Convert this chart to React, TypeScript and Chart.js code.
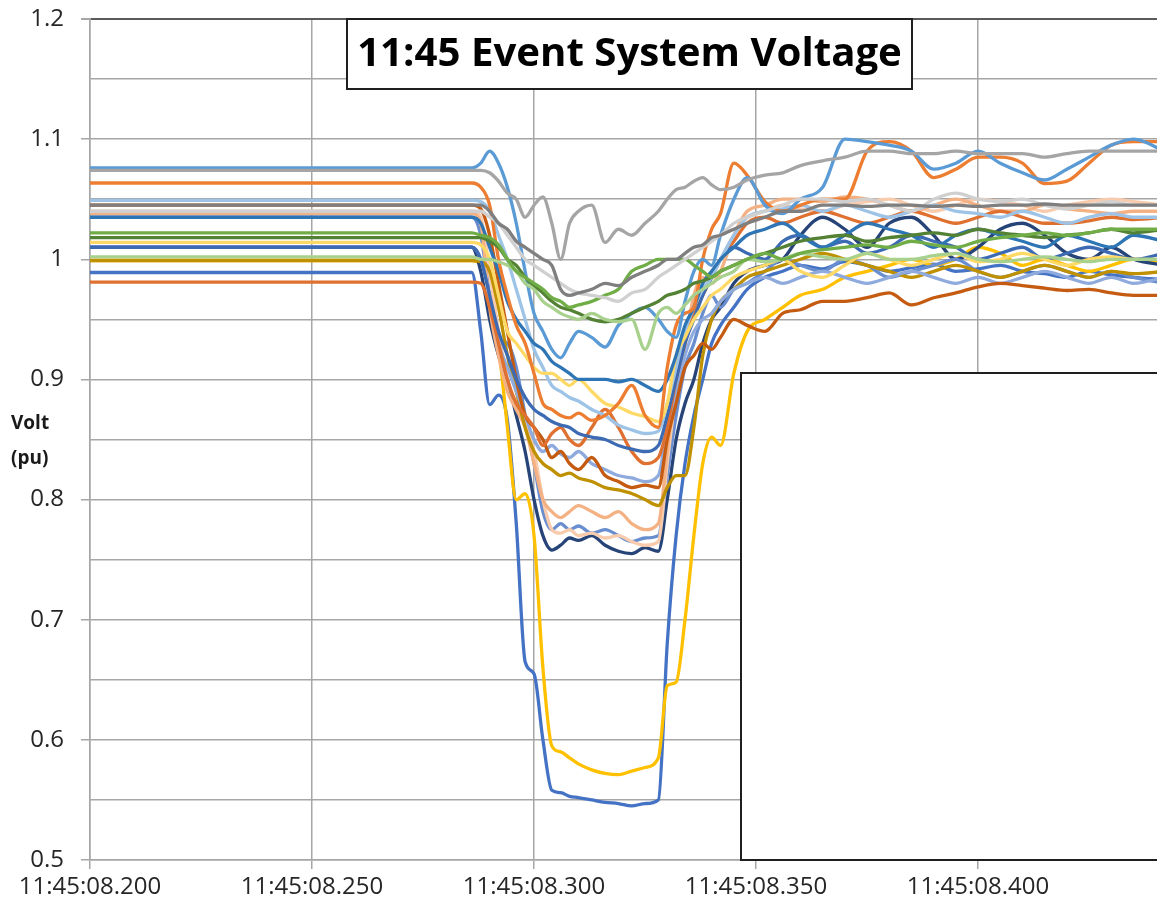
import React, { useEffect, useRef } from "react";
import { Chart, registerables } from "chart.js";

Chart.register(...registerables);

// time axis: milliseconds after 11:45:08
const X_MS = [200, 286, 288, 290, 292, 294, 296, 298, 300, 302, 304, 306, 308, 310, 313, 316, 319, 322, 325, 328, 330, 332, 334, 336, 338, 340, 342, 345, 348, 352, 356, 360, 365, 370, 375, 380, 385, 390, 395, 400, 405, 410, 415, 420, 425, 430, 435, 442];

const TITLE = "11:45 Event System Voltage";
const Y_TITLE = ["Volt", "(pu)"];
const X_PREFIX = "11:45:08.";

const V_GRAY = [1.074, 1.074, 1.074, 1.072, 1.065, 1.055, 1.05, 1.035, 1.045, 1.052, 1.03, 1.0, 1.03, 1.04, 1.045, 1.014, 1.025, 1.02, 1.03, 1.04, 1.05, 1.058, 1.06, 1.065, 1.068, 1.062, 1.058, 1.06, 1.066, 1.07, 1.072, 1.078, 1.082, 1.085, 1.09, 1.09, 1.088, 1.088, 1.09, 1.088, 1.088, 1.088, 1.085, 1.088, 1.09, 1.09, 1.09, 1.09];
const V_DARKGRAY = [1.045, 1.045, 1.045, 1.04, 1.03, 1.025, 1.015, 1.01, 1.005, 1.0, 0.995, 0.975, 0.97, 0.972, 0.975, 0.98, 0.978, 0.985, 0.99, 0.995, 1.0, 1.0, 1.005, 1.01, 1.012, 1.018, 1.02, 1.025, 1.03, 1.035, 1.04, 1.04, 1.045, 1.045, 1.044, 1.045, 1.045, 1.044, 1.045, 1.044, 1.045, 1.045, 1.046, 1.045, 1.045, 1.045, 1.045, 1.045];
const V_LIGHTGRAY = [1.04, 1.04, 1.04, 1.035, 1.03, 1.02, 1.01, 1.0, 0.995, 0.99, 0.985, 0.98, 0.975, 0.972, 0.97, 0.968, 0.965, 0.972, 0.975, 0.985, 0.99, 0.995, 1.0, 1.005, 1.01, 1.015, 1.02, 1.03, 1.035, 1.04, 1.045, 1.05, 1.05, 1.048, 1.05, 1.045, 1.04, 1.05, 1.055, 1.05, 1.048, 1.05, 1.045, 1.042, 1.045, 1.048, 1.045, 1.045];
const V_GREEN = [1.022, 1.022, 1.02, 1.018, 1.012, 1.0, 0.99, 0.985, 0.98, 0.975, 0.968, 0.965, 0.96, 0.962, 0.965, 0.97, 0.975, 0.99, 0.995, 1.0, 1.0, 1.0, 1.0, 0.995, 0.99, 0.985, 0.99, 0.995, 1.0, 1.005, 1.0, 1.005, 1.008, 1.01, 1.012, 1.01, 1.015, 1.012, 1.01, 1.015, 1.018, 1.02, 1.022, 1.02, 1.022, 1.025, 1.025, 1.025];
const V_LIGHTGREEN = [1.002, 1.002, 1.0, 1.0, 0.998, 0.995, 0.99, 0.98, 0.975, 0.965, 0.96, 0.955, 0.952, 0.95, 0.955, 0.95, 0.948, 0.95, 0.925, 0.955, 0.96, 0.955, 0.962, 0.97, 0.975, 0.98, 0.985, 0.99, 1.0, 0.998, 1.0, 1.005, 1.002, 1.0, 1.005, 1.0, 1.0, 1.003, 1.005, 1.0, 0.998, 1.0, 1.002, 1.0, 0.998, 1.0, 1.0, 1.0];
const V_DARKGREEN = [1.018, 1.018, 1.018, 1.015, 1.01, 1.0, 0.995, 0.985, 0.978, 0.972, 0.965, 0.96, 0.958, 0.955, 0.95, 0.948, 0.95, 0.955, 0.96, 0.965, 0.97, 0.972, 0.975, 0.98, 0.982, 0.985, 0.99, 0.995, 1.0, 1.005, 1.01, 1.015, 1.018, 1.02, 1.015, 1.018, 1.02, 1.022, 1.02, 1.025, 1.022, 1.02, 1.018, 1.02, 1.022, 1.025, 1.022, 1.025];
const V_BLUE_TOP = [1.076, 1.076, 1.08, 1.09, 1.08, 1.06, 1.03, 0.99, 0.955, 0.94, 0.925, 0.918, 0.93, 0.94, 0.935, 0.927, 0.945, 0.955, 0.96, 0.95, 0.94, 0.935, 0.965, 0.99, 1.0, 0.995, 1.02, 1.05, 1.068, 1.045, 1.038, 1.05, 1.06, 1.1, 1.098, 1.095, 1.09, 1.075, 1.08, 1.09, 1.08, 1.072, 1.066, 1.075, 1.085, 1.095, 1.1, 1.09];
const V_ORANGE_TOP = [1.0635, 1.0635, 1.06, 1.045, 1.0, 0.97, 0.945, 0.93, 0.905, 0.88, 0.875, 0.87, 0.868, 0.872, 0.866, 0.87, 0.88, 0.895, 0.87, 0.86, 0.91, 0.945, 0.955, 0.96, 1.0, 1.025, 1.038, 1.08, 1.07, 1.048, 1.04, 1.045, 1.05, 1.05, 1.09, 1.098, 1.09, 1.068, 1.075, 1.085, 1.085, 1.08, 1.063, 1.065, 1.08, 1.095, 1.098, 1.098];
const V_MIDBLUE_90 = [1.035, 1.035, 1.03, 1.01, 0.99, 0.965, 0.95, 0.94, 0.93, 0.925, 0.915, 0.91, 0.905, 0.9, 0.9, 0.9, 0.898, 0.9, 0.895, 0.89, 0.9, 0.92, 0.945, 0.96, 0.98, 0.99, 1.0, 1.01, 1.02, 1.025, 1.03, 1.02, 1.01, 1.02, 1.03, 1.025, 1.02, 1.01, 1.02, 1.025, 1.02, 1.015, 1.01, 1.02, 1.015, 1.01, 1.02, 1.015];
const V_LIGHTGOLD = [1.014, 1.014, 1.012, 1.0, 0.97, 0.94, 0.93, 0.92, 0.91, 0.905, 0.905, 0.9, 0.895, 0.9, 0.89, 0.88, 0.877, 0.872, 0.869, 0.865, 0.88, 0.92, 0.935, 0.95, 0.96, 0.97, 0.975, 0.985, 0.99, 0.995, 1.0, 0.99, 0.985, 0.995, 1.005, 1.0, 0.995, 1.0, 1.005, 0.998, 1.0, 1.005, 1.0, 0.995, 1.0, 1.002, 1.0, 1.0];
const V_LIGHTBLUE = [1.049, 1.049, 1.048, 1.04, 1.02, 1.0, 0.975, 0.95, 0.925, 0.91, 0.895, 0.89, 0.885, 0.882, 0.875, 0.87, 0.862, 0.858, 0.855, 0.857, 0.88, 0.91, 0.94, 0.96, 0.975, 0.985, 1.0, 1.02, 1.035, 1.04, 1.042, 1.045, 1.04, 1.045, 1.04, 1.035, 1.04, 1.045, 1.04, 1.038, 1.035, 1.04, 1.035, 1.03, 1.035, 1.038, 1.035, 1.035];
const V_BLUE_84 = [1.01, 1.01, 1.0, 0.97, 0.94, 0.92, 0.9, 0.885, 0.875, 0.87, 0.865, 0.862, 0.86, 0.855, 0.852, 0.85, 0.845, 0.842, 0.84, 0.845, 0.87, 0.9, 0.93, 0.95, 0.97, 0.985, 1.0, 1.01, 1.005, 1.0, 1.015, 1.02, 1.01, 1.015, 1.005, 1.01, 1.02, 1.015, 1.01, 1.0, 1.005, 1.01, 1.0, 1.005, 1.01, 1.005, 1.0, 1.005];
const V_ORANGE_LOW = [0.981, 0.981, 0.98, 0.96, 0.93, 0.9, 0.88, 0.87, 0.86, 0.845, 0.855, 0.86, 0.85, 0.845, 0.86, 0.875, 0.86, 0.84, 0.83, 0.835, 0.86, 0.9, 0.93, 0.955, 0.97, 0.985, 1.0, 1.015, 1.03, 1.035, 1.03, 1.035, 1.04, 1.035, 1.03, 1.035, 1.04, 1.035, 1.03, 1.035, 1.04, 1.035, 1.03, 1.03, 1.032, 1.035, 1.033, 1.035];
const V_DARKORANGE = [1.045, 1.045, 1.042, 1.02, 0.98, 0.94, 0.9, 0.87, 0.86, 0.85, 0.835, 0.84, 0.83, 0.825, 0.835, 0.82, 0.815, 0.81, 0.812, 0.81, 0.85, 0.88, 0.91, 0.92, 0.93, 0.925, 0.935, 0.95, 0.945, 0.94, 0.955, 0.958, 0.965, 0.965, 0.968, 0.972, 0.962, 0.968, 0.972, 0.977, 0.98, 0.978, 0.976, 0.974, 0.975, 0.972, 0.97, 0.97];
const V_PERIWINKLE = [1.01, 1.01, 1.0, 0.97, 0.93, 0.91, 0.89, 0.87, 0.85, 0.84, 0.845, 0.838, 0.835, 0.84, 0.83, 0.825, 0.82, 0.818, 0.815, 0.82, 0.86, 0.89, 0.92, 0.94, 0.95, 0.955, 0.965, 0.975, 0.98, 0.985, 0.98, 0.985, 0.99, 0.985, 0.98, 0.985, 0.99, 0.985, 0.98, 0.985, 0.98, 0.985, 0.99, 0.985, 0.98, 0.985, 0.98, 0.985];
const V_OLIVE = [0.999, 0.999, 0.998, 0.99, 0.96, 0.92, 0.89, 0.86, 0.84, 0.83, 0.825, 0.82, 0.822, 0.818, 0.815, 0.81, 0.808, 0.805, 0.8, 0.795, 0.81, 0.82, 0.82, 0.86, 0.92, 0.95, 0.965, 0.975, 0.985, 0.99, 0.995, 1.0, 1.005, 1.0, 0.995, 0.99, 0.985, 0.99, 0.995, 0.99, 0.985, 0.99, 0.995, 0.99, 0.985, 0.99, 0.988, 0.99];
const V_PINK = [1.038, 1.038, 1.03, 0.96, 0.92, 0.89, 0.875, 0.86, 0.83, 0.8, 0.79, 0.785, 0.79, 0.795, 0.79, 0.785, 0.79, 0.78, 0.775, 0.78, 0.84, 0.9, 0.93, 0.97, 0.985, 0.98, 0.99, 1.02, 1.04, 1.045, 1.05, 1.05, 1.048, 1.052, 1.05, 1.045, 1.04, 1.045, 1.05, 1.045, 1.04, 1.04, 1.045, 1.042, 1.04, 1.038, 1.04, 1.04];
const V_LIGHTPINK = [1.04, 1.04, 1.035, 0.99, 0.94, 0.9, 0.88, 0.865, 0.84, 0.8, 0.775, 0.772, 0.775, 0.77, 0.772, 0.768, 0.77, 0.765, 0.762, 0.765, 0.83, 0.89, 0.93, 0.96, 0.98, 0.99, 1.0, 1.02, 1.035, 1.04, 1.045, 1.042, 1.04, 1.045, 1.048, 1.05, 1.045, 1.04, 1.045, 1.05, 1.048, 1.045, 1.04, 1.045, 1.048, 1.05, 1.048, 1.045];
const V_BLUE_77 = [1.035, 1.035, 1.02, 0.97, 0.935, 0.93, 0.91, 0.87, 0.83, 0.79, 0.775, 0.78, 0.775, 0.778, 0.772, 0.775, 0.77, 0.765, 0.768, 0.77, 0.82, 0.87, 0.91, 0.93, 0.955, 0.97, 0.96, 0.975, 0.98, 0.99, 1.0, 0.995, 0.99, 1.0, 0.995, 0.985, 0.99, 0.995, 1.0, 0.99, 0.985, 0.99, 0.995, 0.99, 0.985, 0.99, 0.985, 0.98];
const V_NAVY = [1.01, 1.01, 0.99, 0.95, 0.92, 0.9, 0.87, 0.84, 0.8, 0.77, 0.758, 0.762, 0.768, 0.766, 0.77, 0.762, 0.757, 0.755, 0.76, 0.757, 0.8, 0.85, 0.88, 0.9, 0.93, 0.95, 0.96, 0.98, 0.99, 0.995, 1.0, 1.02, 1.035, 1.025, 1.01, 1.03, 1.035, 1.02, 1.0, 1.01, 1.025, 1.03, 1.02, 1.005, 1.0, 1.01, 1.0, 0.995];
const V_GOLD = [0.999, 0.999, 0.997, 0.99, 0.93, 0.86, 0.8, 0.805, 0.77, 0.66, 0.595, 0.59, 0.585, 0.58, 0.575, 0.572, 0.571, 0.574, 0.577, 0.585, 0.645, 0.648, 0.7, 0.77, 0.83, 0.852, 0.845, 0.905, 0.94, 0.95, 0.96, 0.97, 0.975, 0.985, 0.99, 0.995, 1.0, 0.995, 1.0, 1.01, 1.005, 0.995, 1.0, 0.995, 0.99, 0.995, 1.0, 0.998];
const V_BLUE_DEEP = [0.989, 0.989, 0.94, 0.879, 0.887, 0.866, 0.78, 0.665, 0.655, 0.6, 0.558, 0.556, 0.553, 0.552, 0.55, 0.548, 0.547, 0.545, 0.547, 0.55, 0.68, 0.77, 0.83, 0.87, 0.9, 0.93, 0.945, 0.96, 0.975, 0.985, 0.99, 0.995, 0.992, 0.998, 0.995, 0.99, 0.993, 0.996, 0.99, 0.992, 0.995, 0.99, 0.988, 0.985, 0.99, 0.987, 0.985, 0.983];

const SERIES = [
  { name: "Gray", color: "#A5A5A5", values: V_GRAY },
  { name: "Dark gray", color: "#7F7F7F", values: V_DARKGRAY },
  { name: "Light gray", color: "#D0D0D0", values: V_LIGHTGRAY },
  { name: "Green", color: "#70AD47", values: V_GREEN },
  { name: "Light green", color: "#A9D18E", values: V_LIGHTGREEN },
  { name: "Dark green", color: "#548235", values: V_DARKGREEN },
  { name: "Blue top", color: "#5B9BD5", values: V_BLUE_TOP },
  { name: "Orange top", color: "#ED7D31", values: V_ORANGE_TOP },
  { name: "Blue 0.90", color: "#2E75B6", values: V_MIDBLUE_90 },
  { name: "Light gold", color: "#FFD966", values: V_LIGHTGOLD },
  { name: "Light blue", color: "#9DC3E6", values: V_LIGHTBLUE },
  { name: "Blue 0.84", color: "#3D6BB3", values: V_BLUE_84 },
  { name: "Orange low", color: "#E07030", values: V_ORANGE_LOW },
  { name: "Dark orange", color: "#C55A11", values: V_DARKORANGE },
  { name: "Periwinkle", color: "#8FAADC", values: V_PERIWINKLE },
  { name: "Olive", color: "#BF9000", values: V_OLIVE },
  { name: "Pink", color: "#F4B183", values: V_PINK },
  { name: "Light pink", color: "#F8CBAD", values: V_LIGHTPINK },
  { name: "Blue 0.77", color: "#698ED0", values: V_BLUE_77 },
  { name: "Navy", color: "#264478", values: V_NAVY },
  { name: "Gold", color: "#FFC000", values: V_GOLD },
  { name: "Blue deep", color: "#4472C4", values: V_BLUE_DEEP },
];

const FONT = "'Open Sans', 'DejaVu Sans', sans-serif";
const GRID = "#A6A6A6";
const TEXT = "#262626";

const isMajor = (v: number) => Math.abs(v * 10 - Math.round(v * 10)) < 1e-6;

const overlayPlugin = {
  id: "overlay",
  afterDatasetsDraw(chart: any) {
    const ctx = chart.ctx;
    const area = chart.chartArea;
    ctx.save();
    // blank legend box
    ctx.fillStyle = "#ffffff";
    ctx.fillRect(740, 372, area.right - 740 + 10, area.bottom - 372);
    ctx.strokeStyle = "#1f1f1f";
    ctx.lineWidth = 2;
    ctx.strokeRect(741, 373, area.right - 741 + 10, area.bottom - 373);
    // title box
    const bx = 347, by = area.top, bw = 565, bh = 70;
    ctx.fillStyle = "#ffffff";
    ctx.fillRect(bx, by, bw, bh);
    ctx.strokeStyle = "#1f1f1f";
    ctx.lineWidth = 2;
    ctx.strokeRect(bx, by, bw, bh);
    ctx.font = `bold 36px ${FONT}`;
    const w36 = ctx.measureText(TITLE).width;
    const size = 36 * 545 / w36;
    ctx.font = `bold ${size.toFixed(1)}px ${FONT}`;
    ctx.fillStyle = "#000000";
    ctx.textAlign = "center";
    ctx.textBaseline = "middle";
    ctx.fillText(TITLE, bx + bw / 2, by + bh / 2 + 1);
    ctx.restore();
  },
  afterDraw(chart: any) {
    const ctx = chart.ctx;
    ctx.save();
    ctx.font = `bold 19px ${FONT}`;
    ctx.fillStyle = "#1a1a1a";
    ctx.textAlign = "left";
    ctx.textBaseline = "middle";
    ctx.fillText(Y_TITLE[0], 11, 424);
    ctx.fillText(Y_TITLE[1], 11, 459);
    ctx.restore();
  },
};

export default function App() {
  const ref = useRef<HTMLCanvasElement>(null);
  useEffect(() => {
    const canvas = ref.current;
    if (!canvas) return;
    const chart = new Chart(canvas, {
      type: "line",
      data: {
        datasets: SERIES.map((s) => ({
          label: s.name,
          data: X_MS.map((x, i) => ({ x, y: s.values[i] })),
          borderColor: s.color,
          backgroundColor: s.color,
          borderWidth: 3.3,
          pointRadius: 0,
          cubicInterpolationMode: "monotone",
          fill: false,
        })),
      },
      options: {
        responsive: false,
        animation: false,
        layout: { padding: { top: 19, left: 0, right: 0, bottom: 0 } },
        plugins: {
          legend: { display: false },
          tooltip: { enabled: false },
          title: { display: false },
        },
        scales: {
          x: {
            type: "linear",
            min: 200,
            max: 440.3,
            afterFit: (s: any) => { s.height = 44; s.paddingLeft = 0; s.paddingRight = 0; },
            ticks: {
              stepSize: 50,
              includeBounds: false,
              autoSkip: false,
              maxRotation: 0,
              padding: 4,
              color: TEXT,
              font: { family: FONT, size: 24 },
              callback: (v: any) => X_PREFIX + String(Math.round(Number(v))),
            },
            grid: { color: GRID, lineWidth: 1.5, tickLength: 9, tickColor: GRID },
            border: { color: GRID, width: 1.5 },
          },
          y: {
            type: "linear",
            min: 0.5,
            max: 1.2,
            afterFit: (s: any) => { s.width = 90; s.paddingTop = 0; s.paddingBottom = 0; },
            ticks: {
              stepSize: 0.05,
              autoSkip: false,
              padding: 17,
              color: TEXT,
              font: { family: FONT, size: 24 },
              callback: (v: any) => (isMajor(Number(v)) ? String(Number(Number(v).toFixed(2))) : ""),
            },
            grid: {
              color: (c: any) => (c.tick && Math.abs(c.tick.value - 1.2) < 1e-6 ? "#5a5a5a" : GRID),
              lineWidth: (c: any) => (c.tick && Math.abs(c.tick.value - 1.2) < 1e-6 ? 2 : 1.5),
              tickColor: (c: any) => (c.tick && isMajor(c.tick.value) ? GRID : "rgba(0,0,0,0)"),
              tickLength: 9,
            },
            border: { color: GRID, width: 1.5 },
          },
        },
      },
      plugins: [overlayPlugin],
    } as any);
    return () => chart.destroy();
  }, []);
  return (
    <div style={{ position: "absolute", left: 0, top: 0, width: 1157, height: 904, overflow: "hidden", background: "#ffffff" }}>
      <canvas ref={ref} width={1157} height={904} style={{ display: "block" }} />
    </div>
  );
}
